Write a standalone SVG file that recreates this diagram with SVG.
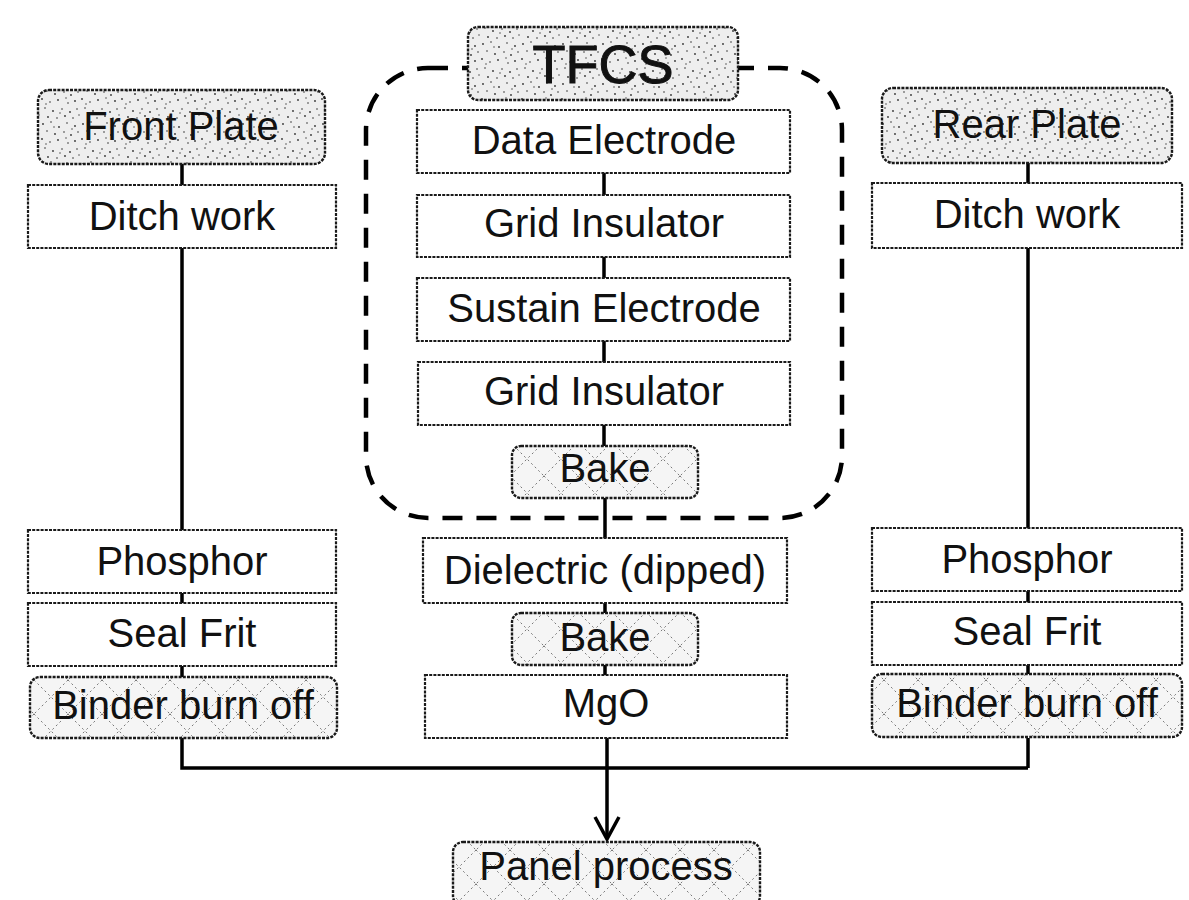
<svg xmlns="http://www.w3.org/2000/svg" width="1189" height="900" viewBox="0 0 1189 900">
<defs>
<pattern id="speckle" width="40" height="40" patternUnits="userSpaceOnUse">
<rect width="40" height="40" fill="#eeeeee"/>
<g fill="#333">
<circle cx="3" cy="4" r="0.9"/><circle cx="11" cy="2" r="0.8"/><circle cx="19" cy="7" r="0.9"/><circle cx="27" cy="3" r="0.8"/><circle cx="35" cy="6" r="0.9"/>
<circle cx="7" cy="11" r="0.8"/><circle cx="15" cy="14" r="0.9"/><circle cx="24" cy="12" r="0.8"/><circle cx="31" cy="15" r="0.9"/><circle cx="38" cy="12" r="0.8"/>
<circle cx="2" cy="19" r="0.9"/><circle cx="10" cy="22" r="0.8"/><circle cx="18" cy="20" r="0.9"/><circle cx="28" cy="23" r="0.8"/><circle cx="35" cy="21" r="0.9"/>
<circle cx="5" cy="28" r="0.8"/><circle cx="13" cy="31" r="0.9"/><circle cx="22" cy="29" r="0.8"/><circle cx="30" cy="32" r="0.9"/><circle cx="37" cy="29" r="0.8"/>
<circle cx="8" cy="37" r="0.9"/><circle cx="17" cy="38" r="0.8"/><circle cx="25" cy="36" r="0.9"/><circle cx="33" cy="38" r="0.8"/><circle cx="20" cy="33" r="0.7"/>
<circle cx="14" cy="7" r="0.7"/><circle cx="32" cy="9" r="0.7"/><circle cx="6" cy="24" r="0.7"/><circle cx="26" cy="18" r="0.7"/><circle cx="39" cy="35" r="0.7"/>
</g>
</pattern>
<pattern id="hatch" width="34" height="34" patternUnits="userSpaceOnUse">
<rect width="34" height="34" fill="#f5f5f5"/>
<path d="M0 0 L34 34 M34 0 L0 34" stroke="#777" stroke-width="1" stroke-dasharray="2 3" fill="none"/>
</pattern>
</defs>
<style>
text{font-family:"Liberation Sans",Arial,sans-serif;font-size:40px;fill:#111;text-anchor:middle}
.box{fill:#fff;stroke:#1a1a1a;stroke-width:2.2;stroke-dasharray:3 1.2}
.spk{fill:url(#speckle);stroke:#1a1a1a;stroke-width:2.4;stroke-dasharray:3 1.2}
.hat{fill:url(#hatch);stroke:#1a1a1a;stroke-width:2.4;stroke-dasharray:3 1.2}
.ln{stroke:#000;stroke-width:3.5;fill:none}
.tfcs{fill:none;stroke:#000;stroke-width:4.5;stroke-dasharray:20 14}
</style>
<g id="tfcs-boundary">
<rect class="tfcs" x="366" y="68" width="476" height="450" rx="62" ry="62"/>
</g>
<g id="connectors">
<path class="ln" d="M182 164 V185 M182 248 V530 M182 593 V603 M182 666 V677 M182 738 V768 H1028 M1028 738 V768"/>
<path class="ln" d="M1028 163 V183 M1028 248 V528 M1028 591 V602 M1028 665 V674"/>
<path class="ln" d="M604 173 V195 M604 257 V278 M604 341 V362 M604 425 V446 M605 498 V538 M605 603 V613 M605 665 V675 M607 738 V838"/>
<path class="ln" d="M595 817 L607 839 L619 817" stroke-linejoin="miter"/>
</g>
<g id="tfcs"><rect class="spk" x="468" y="27" width="270" height="73" rx="10"/><text x="603" y="83" style="font-size:54px;stroke:#111;stroke-width:1">TFCS</text></g>
<g id="front-plate"><rect class="spk" x="38" y="90" width="287" height="74" rx="11"/><text x="181" y="140">Front Plate</text></g>
<g id="ditch-left"><rect class="box" x="28" y="185" width="308" height="63"/><text x="182" y="230">Ditch work</text></g>
<g id="phosphor-left"><rect class="box" x="28" y="530" width="308" height="63"/><text x="182" y="575">Phosphor</text></g>
<g id="sealfrit-left"><rect class="box" x="28" y="603" width="308" height="63"/><text x="182" y="647">Seal Frit</text></g>
<g id="binder-left"><rect class="hat" x="30" y="677" width="307" height="61" rx="10"/><text x="183" y="719">Binder burn off</text></g>
<g id="data-electrode"><rect class="box" x="417" y="110" width="373" height="63"/><text x="604" y="154">Data Electrode</text></g>
<g id="grid-insulator-1"><rect class="box" x="417" y="195" width="373" height="62"/><text x="604" y="237">Grid Insulator</text></g>
<g id="sustain-electrode"><rect class="box" x="417" y="278" width="373" height="63"/><text x="604" y="322">Sustain Electrode</text></g>
<g id="grid-insulator-2"><rect class="box" x="418" y="362" width="372" height="63"/><text x="604" y="405">Grid Insulator</text></g>
<g id="bake-1"><rect class="hat" x="512" y="446" width="186" height="52" rx="9"/><text x="605" y="482">Bake</text></g>
<g id="dielectric"><rect class="box" x="423" y="538" width="364" height="65"/><text x="605" y="584">Dielectric (dipped)</text></g>
<g id="bake-2"><rect class="hat" x="512" y="613" width="186" height="52" rx="9"/><text x="605" y="651">Bake</text></g>
<g id="mgo"><rect class="box" x="425" y="675" width="362" height="63"/><text x="606" y="717">MgO</text></g>
<g id="panel-process"><rect class="hat" x="453" y="842" width="307" height="64" rx="10"/><text x="606" y="880">Panel process</text></g>
<g id="rear-plate"><rect class="spk" x="882" y="88" width="290" height="75" rx="11"/><text x="1027" y="138">Rear Plate</text></g>
<g id="ditch-right"><rect class="box" x="872" y="183" width="310" height="65"/><text x="1027" y="228">Ditch work</text></g>
<g id="phosphor-right"><rect class="box" x="872" y="528" width="310" height="63"/><text x="1027" y="573">Phosphor</text></g>
<g id="sealfrit-right"><rect class="box" x="872" y="602" width="310" height="63"/><text x="1027" y="645">Seal Frit</text></g>
<g id="binder-right"><rect class="hat" x="872" y="674" width="310" height="63" rx="10"/><text x="1027" y="717">Binder burn off</text></g>
</svg>
